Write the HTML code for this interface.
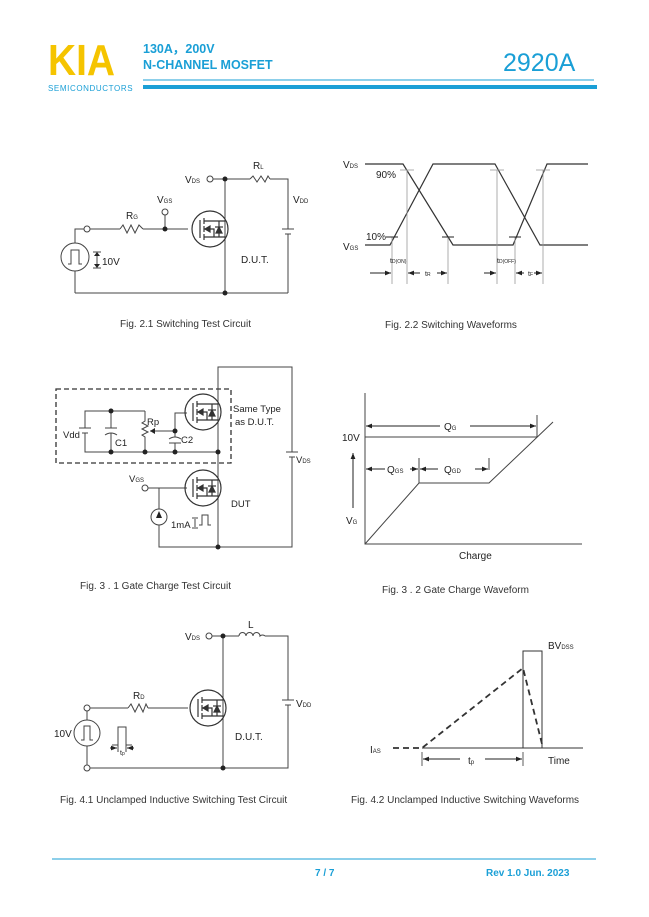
<!DOCTYPE html>
<html><head><meta charset="utf-8"><style>
html,body{margin:0;padding:0;background:#fff}
svg{display:block}
text{font-family:"Liberation Sans",Arial,sans-serif}
</style></head><body>
<svg width="649" height="917" viewBox="0 0 649 917" xmlns="http://www.w3.org/2000/svg">
<defs>
<marker id="ah" viewBox="0 0 10 10" refX="10" refY="5" markerWidth="6" markerHeight="6" orient="auto-start-reverse"><path d="M0,1 L10,5 L0,9 z" fill="#222"/></marker>
<g id="mos" stroke="#333" stroke-width="1.2" fill="none">
<circle cx="0" cy="0" r="18"/>
<line x1="-10" y1="-9" x2="-10" y2="9"/>
<line x1="-6" y1="-11" x2="-6" y2="-5"/><line x1="-6" y1="-3" x2="-6" y2="3"/><line x1="-6" y1="5" x2="-6" y2="11"/>
<polyline points="-6,-8 15,-8"/><polyline points="-6,8 15,8"/>
<polyline points="-6,0 4,0 4,8"/>
<path d="M-5,0 l5,-3 v6 z" fill="#333"/>
<path d="M6,4 l3,-6 l3,6 z" fill="#333"/><line x1="5" y1="-2" x2="13" y2="-2"/>
<line x1="9" y1="-8" x2="9" y2="-2"/><line x1="9" y1="4" x2="9" y2="8"/>
</g>
</defs>

<!-- Header -->
<text x="48" y="75" font-size="44" font-weight="bold" fill="#f5c400" textLength="67" lengthAdjust="spacingAndGlyphs">KIA</text>
<text x="48" y="91" font-size="8" fill="#1a9fd6" letter-spacing="0.6">SEMICONDUCTORS</text>
<text x="143" y="53" font-size="12.5" fill="#1a9fd6" font-weight="bold">130A，200V</text>
<text x="143" y="69" font-size="12.5" fill="#1a9fd6" font-weight="bold">N-CHANNEL MOSFET</text>
<text x="503" y="71" font-size="25" fill="#1a9fd6">2920A</text>
<line x1="143" y1="80" x2="594" y2="80" stroke="#1a9fd6" stroke-width="1"/>
<rect x="143" y="85" width="454" height="4" fill="#1a9fd6"/>

<g stroke="#444" stroke-width="1" fill="none">
<!-- Fig 2.1 -->
<polyline points="75,243 75,229 84,229"/>
<circle cx="87" cy="229" r="3"/>
<line x1="90" y1="229" x2="120" y2="229"/>
<polyline points="120,229 123,225 127,233 131,225 135,233 139,225 143,229"/>
<line x1="143" y1="229" x2="188" y2="229"/>
<line x1="165" y1="229" x2="165" y2="215"/>
<circle cx="165" cy="212" r="3"/>
<circle cx="75" cy="257" r="14"/>
<polyline points="68,264 71,264 71,250 79,250 79,264 82,264"/>
<line x1="75" y1="271" x2="75" y2="293"/>
<line x1="75" y1="293" x2="288" y2="293"/>
<line x1="213" y1="179" x2="250" y2="179"/>
<circle cx="210" cy="179" r="3"/>
<polyline points="250,179 253,176 257,182 261,176 265,182 268,176 270,179"/>
<polyline points="270,179 288,179 288,229"/>
<line x1="282" y1="229" x2="294" y2="229"/><line x1="285" y1="234" x2="291" y2="234"/>
<line x1="288" y1="234" x2="288" y2="293"/>
<line x1="225" y1="179" x2="225" y2="293"/>
<line x1="97" y1="253" x2="97" y2="267"/><line x1="93" y1="252" x2="101" y2="252"/><line x1="93" y1="268" x2="101" y2="268"/>
</g>
<use href="#mos" x="210" y="229"/>
<g fill="#222">
<circle cx="165" cy="229" r="2.5"/><circle cx="225" cy="179" r="2.5"/><circle cx="225" cy="293" r="2.5"/>
<path d="M94,256 l3,-4 l3,4z M94,264 l3,4 l3,-4z"/>
</g>
<g font-size="10" fill="#222">
<text x="185" y="183">V<tspan font-size="6">DS</tspan></text>
<text x="253" y="169">R<tspan font-size="6">L</tspan></text>
<text x="293" y="203">V<tspan font-size="6">DD</tspan></text>
<text x="157" y="203">V<tspan font-size="6">GS</tspan></text>
<text x="126" y="219">R<tspan font-size="6">G</tspan></text>
<text x="102" y="265">10V</text>
<text x="241" y="263">D.U.T.</text>
</g>

<!-- Fig 2.2 -->
<g stroke="#333" stroke-width="1.2" fill="none">
<polyline points="365,164 403,164 453,245 513,245 547,164 588,164"/>
<polyline points="365,245 390,245 433,164 495,164 540,245 588,245"/>
</g>
<g stroke="#999" stroke-width="0.8">
<line x1="392" y1="237" x2="392" y2="284"/><line x1="407" y1="170" x2="407" y2="284"/>
<line x1="448" y1="237" x2="448" y2="284"/><line x1="497" y1="170" x2="497" y2="284"/>
<line x1="515" y1="237" x2="515" y2="284"/><line x1="543" y1="170" x2="543" y2="284"/>
<line x1="400" y1="170" x2="414" y2="170"/><line x1="490" y1="170" x2="504" y2="170"/><line x1="536" y1="170" x2="550" y2="170"/>
</g>
<g stroke="#222" stroke-width="1">
<line x1="386" y1="237" x2="398" y2="237"/><line x1="442" y1="237" x2="454" y2="237"/><line x1="509" y1="237" x2="521" y2="237"/>
<line x1="370" y1="273" x2="391" y2="273" marker-end="url(#ah)"/>
<line x1="420" y1="273" x2="408" y2="273" marker-end="url(#ah)"/>
<line x1="437" y1="273" x2="447" y2="273" marker-end="url(#ah)"/>
<line x1="484" y1="273" x2="496" y2="273" marker-end="url(#ah)"/>
<line x1="524" y1="273" x2="516" y2="273" marker-end="url(#ah)"/>
<line x1="534" y1="273" x2="542" y2="273" marker-end="url(#ah)"/>
</g>
<g font-size="10" fill="#222">
<text x="343" y="168">V<tspan font-size="6">DS</tspan></text>
<text x="376" y="178">90%</text>
<text x="366" y="240">10%</text>
<text x="343" y="250">V<tspan font-size="6">GS</tspan></text>
<text x="390" y="263" font-size="7">t<tspan font-size="5">D(ON)</tspan></text>
<text x="425" y="276" font-size="7">t<tspan font-size="5">R</tspan></text>
<text x="497" y="263" font-size="7">t<tspan font-size="5">D(OFF)</tspan></text>
<text x="528" y="276" font-size="7">t<tspan font-size="5">F</tspan></text>
</g>

<text x="120" y="327" font-size="10" fill="#333">Fig. 2.1 Switching Test Circuit</text>
<text x="385" y="328" font-size="10" fill="#333">Fig. 2.2 Switching Waveforms</text>

<!-- Fig 3.1 -->
<rect x="56" y="389" width="175" height="74" fill="none" stroke="#333" stroke-width="1.3" stroke-dasharray="5,3"/>
<g stroke="#444" stroke-width="1" fill="none">
<polyline points="218,547 218,367 292,367 292,452"/>
<line x1="286" y1="452" x2="298" y2="452"/><line x1="289" y1="457" x2="295" y2="457"/>
<polyline points="292,457 292,547 159,547 159,525"/>
<line x1="159" y1="509" x2="159" y2="488"/>
<circle cx="159" cy="517" r="8"/>
<line x1="148" y1="488" x2="187" y2="488"/>
<circle cx="145" cy="488" r="3"/>
<polyline points="145,411 85,411 85,428"/><line x1="79" y1="428" x2="91" y2="428"/><line x1="82" y1="433" x2="88" y2="433"/>
<polyline points="85,433 85,452 218,452"/>
<line x1="111" y1="411" x2="111" y2="428"/><line x1="105" y1="428" x2="117" y2="428"/><path d="M105,435 q6,-4 12,0"/><line x1="111" y1="433" x2="111" y2="452"/>
<polyline points="145,411 145,421 142,423 148,426 142,429 148,432 142,435 145,437 145,452"/>
<line x1="175" y1="431" x2="150" y2="431"/>
<polyline points="175,452 175,443"/><line x1="169" y1="443" x2="181" y2="443"/><path d="M169,439 q6,-4 12,0"/><polyline points="175,437 175,413 187,413"/>
<polyline points="199,525 202,525 202,515 208,515 208,525 211,525"/>
<line x1="195" y1="519" x2="195" y2="527"/><line x1="192" y1="518" x2="198" y2="518"/><line x1="192" y1="528" x2="198" y2="528"/>
</g>
<use href="#mos" x="203" y="412"/>
<use href="#mos" x="203" y="488"/>
<g fill="#222">
<path d="M150,431 l5,-3 v6z"/>
<path d="M159,511 l-3,7 h6z"/>
<circle cx="111" cy="411" r="2.5"/><circle cx="111" cy="452" r="2.5"/><circle cx="145" cy="452" r="2.5"/><circle cx="175" cy="452" r="2.5"/><circle cx="175" cy="431" r="2.5"/><circle cx="218" cy="452" r="2.5"/><circle cx="218" cy="547" r="2.5"/>
</g>
<g font-size="9.5" fill="#222">
<text x="63" y="438">Vdd</text><text x="115" y="446">C1</text><text x="147" y="425">Rp</text><text x="181" y="443">C2</text>
<text x="233" y="412">Same Type</text><text x="235" y="425">as D.U.T.</text>
<text x="296" y="463">V<tspan font-size="6">DS</tspan></text>
<text x="129" y="482">V<tspan font-size="6">GS</tspan></text>
<text x="231" y="507">DUT</text>
<text x="171" y="528">1mA</text>
</g>

<!-- Fig 3.2 -->
<g stroke="#444" stroke-width="1" fill="none">
<polyline points="365,393 365,544 582,544"/>
<line x1="365" y1="437" x2="537" y2="437"/>
<polyline points="365,544 419,483 489,483 553,422"/>
<line x1="537" y1="415" x2="537" y2="437"/>
<line x1="419" y1="458" x2="419" y2="483"/><line x1="489" y1="458" x2="489" y2="470"/>
</g>
<g stroke="#222" stroke-width="1">
<line x1="440" y1="426" x2="366" y2="426" marker-end="url(#ah)"/><line x1="470" y1="426" x2="536" y2="426" marker-end="url(#ah)"/>
<line x1="385" y1="469" x2="366" y2="469" marker-end="url(#ah)"/><line x1="410" y1="469" x2="418" y2="469" marker-end="url(#ah)"/>
<line x1="438" y1="469" x2="420" y2="469" marker-end="url(#ah)"/><line x1="475" y1="469" x2="488" y2="469" marker-end="url(#ah)"/>
<line x1="353" y1="508" x2="353" y2="453" marker-end="url(#ah)"/>
</g>
<g font-size="10" fill="#222">
<text x="444" y="430">Q<tspan font-size="6">G</tspan></text>
<text x="387" y="473">Q<tspan font-size="6">GS</tspan></text>
<text x="444" y="473">Q<tspan font-size="6">GD</tspan></text>
<text x="342" y="441">10V</text>
<text x="346" y="524">V<tspan font-size="6">G</tspan></text>
<text x="459" y="559">Charge</text>
</g>

<text x="80" y="589" font-size="10" fill="#333">Fig. 3 . 1 Gate Charge Test Circuit</text>
<text x="382" y="593" font-size="10" fill="#333">Fig. 3 . 2 Gate Charge Waveform</text>

<!-- Fig 4.1 -->
<g stroke="#444" stroke-width="1" fill="none">
<line x1="212" y1="636" x2="239" y2="636"/><circle cx="209" cy="636" r="3"/>
<path d="M239,636 a3.5,3.5 0 0 1 7,0 a3.5,3.5 0 0 1 7,0 a3.5,3.5 0 0 1 7,0 a3.5,3.5 0 0 1 5,0"/>
<polyline points="265,636 288,636 288,700"/>
<line x1="282" y1="700" x2="294" y2="700"/><line x1="285" y1="705" x2="291" y2="705"/>
<polyline points="288,705 288,768 90,768"/>
<circle cx="87" cy="768" r="3"/>
<line x1="223" y1="636" x2="223" y2="768"/>
<circle cx="87" cy="708" r="3"/>
<line x1="90" y1="708" x2="128" y2="708"/>
<polyline points="128,708 131,704 135,712 139,704 143,712 146,704 148,708"/>
<line x1="148" y1="708" x2="188" y2="708"/>
<line x1="87" y1="711" x2="87" y2="720"/>
<circle cx="87" cy="733" r="13"/>
<polyline points="81,740 84,740 84,726 90,726 90,740 93,740"/>
<line x1="87" y1="746" x2="87" y2="765"/>
<polyline points="112,745 118,745 118,727 126,727 126,745 132,745"/>
<line x1="118" y1="745" x2="118" y2="752"/><line x1="126" y1="745" x2="126" y2="752"/>
</g>
<use href="#mos" x="208" y="708"/>
<g stroke="#222" stroke-width="1">
<line x1="110" y1="748" x2="117" y2="748" marker-end="url(#ah)"/><line x1="134" y1="748" x2="127" y2="748" marker-end="url(#ah)"/>
</g>
<g fill="#222"><circle cx="223" cy="636" r="2.5"/><circle cx="223" cy="768" r="2.5"/></g>
<g font-size="10" fill="#222">
<text x="185" y="640">V<tspan font-size="6">DS</tspan></text>
<text x="248" y="628">L</text>
<text x="296" y="707">V<tspan font-size="6">DD</tspan></text>
<text x="133" y="699">R<tspan font-size="6">D</tspan></text>
<text x="54" y="737">10V</text>
<text x="235" y="740">D.U.T.</text>
<text x="120" y="755" font-size="7">t<tspan font-size="5">p</tspan></text>
</g>

<!-- Fig 4.2 -->
<g stroke="#333" fill="none">
<line x1="422" y1="748" x2="583" y2="748" stroke-width="1"/>
<polyline points="523,748 523,651 542,651 542,748" stroke-width="1"/>
<polyline points="393,748 422,748 523,668 543,748" stroke-width="1.8" stroke-dasharray="6,4"/>
<line x1="422" y1="752" x2="422" y2="766" stroke-width="0.8"/><line x1="523" y1="752" x2="523" y2="766" stroke-width="0.8"/>
</g>
<g stroke="#222" stroke-width="1">
<line x1="460" y1="759" x2="423" y2="759" marker-end="url(#ah)"/><line x1="485" y1="759" x2="522" y2="759" marker-end="url(#ah)"/>
</g>
<g font-size="10" fill="#222">
<text x="548" y="649">BV<tspan font-size="6">DSS</tspan></text>
<text x="370" y="753">I<tspan font-size="6">AS</tspan></text>
<text x="468" y="764">t<tspan font-size="6">p</tspan></text>
<text x="548" y="764">Time</text>
</g>

<text x="60" y="803" font-size="10" fill="#333">Fig. 4.1 Unclamped Inductive Switching Test Circuit</text>
<text x="351" y="803" font-size="10" fill="#333">Fig. 4.2 Unclamped Inductive Switching Waveforms</text>

<!-- Footer -->
<line x1="52" y1="859" x2="596" y2="859" stroke="#1a9fd6" stroke-width="1"/>
<text x="315" y="876" font-size="10" font-weight="bold" fill="#1a9fd6">7 / 7</text>
<text x="486" y="876" font-size="10" font-weight="bold" fill="#1a9fd6">Rev 1.0    Jun. 2023</text>
</svg>
</body></html>
